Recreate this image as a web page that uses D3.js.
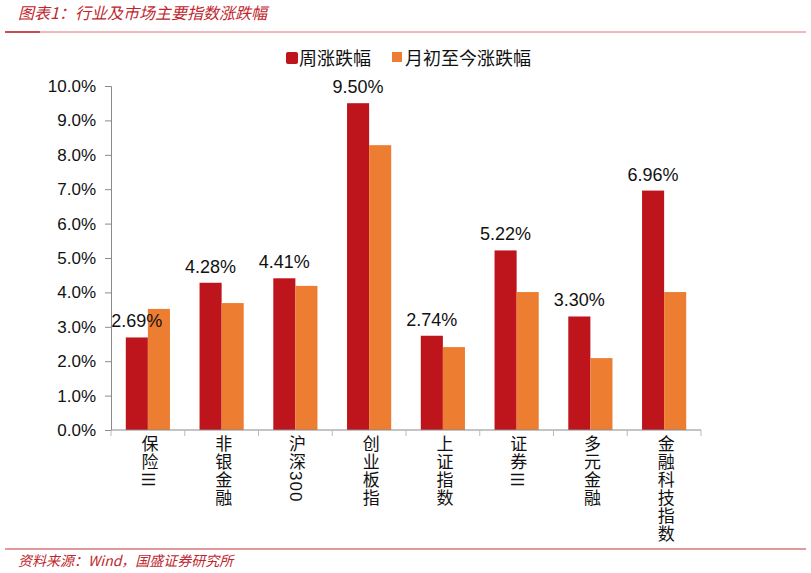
<!DOCTYPE html>
<html>
<head>
<meta charset="utf-8">
<script src="https://cdn.jsdelivr.net/npm/d3@7"></script>
<style>
  body { margin: 0; background: #fff; }
  svg text { font-family: "Liberation Sans", Arial, "Noto Sans CJK SC", sans-serif; }
  .vlab { writing-mode: vertical-rl; text-orientation: mixed; }
  .side { text-orientation: sideways; }
</style>
</head>
<body>
<script>
// categories and values
var categories = ["保险Ⅲ", "非银金融", "沪深300", "创业板指", "上证指数", "证券Ⅲ", "多元金融", "金融科技指数"];
var weekly = [2.69, 4.28, 4.41, 9.50, 2.74, 5.22, 3.30, 6.96];
var monthToDate = [3.52, 3.69, 4.19, 8.28, 2.41, 4.01, 2.09, 4.01];
var seriesNames = ["周涨跌幅", "月初至今涨跌幅"];
var yTicks = [0, 1, 2, 3, 4, 5, 6, 7, 8, 9, 10];

var width = 811, height = 573;
var colors = ["#BE141C", "#ED7D31"];
var titleRed = "#C0262D";

var svg = d3.select("body").append("svg")
    .attr("width", width)
    .attr("height", height);

// header
svg.append("text")
    .attr("x", 18).attr("y", 19)
    .attr("fill", titleRed)
    .style("font-size", "16px")
    .style("font-style", "italic")
    .style("font-family", "'Noto Sans CJK SC', sans-serif")
    .text("图表1：行业及市场主要指数涨跌幅");
svg.append("line")
    .attr("x1", 5).attr("x2", 806).attr("y1", 32).attr("y2", 32)
    .attr("stroke", "#D9777B").attr("stroke-width", 1);
svg.append("line")
    .attr("x1", 5).attr("x2", 40).attr("y1", 32).attr("y2", 32)
    .attr("stroke", "#C0262D").attr("stroke-width", 1.5);

// footer
svg.append("line")
    .attr("x1", 5).attr("x2", 806).attr("y1", 549).attr("y2", 549)
    .attr("stroke", "#D9777B").attr("stroke-width", 1.5);
svg.append("text")
    .attr("x", 18).attr("y", 566)
    .attr("fill", titleRed)
    .style("font-size", "14px")
    .style("font-style", "italic")
    .style("font-family", "'Noto Sans CJK SC', sans-serif")
    .text("资料来源：Wind，国盛证券研究所");

// scales
var x = d3.scaleBand()
    .domain(categories)
    .range([111, 701])
    .paddingInner(0)
    .paddingOuter(0);

var y = d3.scaleLinear()
    .domain([0, 10])
    .range([430, 86]);

var inner = d3.scaleBand()
    .domain([0, 1])
    .range([0, x.bandwidth()])
    .paddingOuter(0.67)
    .paddingInner(0);

// y axis
var yAxis = svg.append("g")
    .attr("transform", "translate(111,0)")
    .call(d3.axisLeft(y).tickValues(yTicks).tickSize(6).tickPadding(9)
        .tickFormat(function(d) { return d.toFixed(1) + "%"; }));
yAxis.select(".domain").attr("stroke", "#8a8a8a");
yAxis.selectAll(".tick line").attr("stroke", "#8a8a8a");
yAxis.selectAll("text")
    .style("font-size", "17px")
    .attr("fill", "#111");

// bars
var groups = svg.selectAll(".cat")
    .data(categories)
    .enter()
    .append("g")
    .attr("class", "cat")
    .attr("transform", function(d) { return "translate(" + x(d) + ",0)"; });

groups.append("rect")
    .attr("x", inner(0))
    .attr("width", inner.bandwidth())
    .attr("y", function(d, i) { return y(weekly[i]); })
    .attr("height", function(d, i) { return y(0) - y(weekly[i]); })
    .attr("fill", colors[0]);

groups.append("rect")
    .attr("x", inner(1))
    .attr("width", inner.bandwidth())
    .attr("y", function(d, i) { return y(monthToDate[i]); })
    .attr("height", function(d, i) { return y(0) - y(monthToDate[i]); })
    .attr("fill", colors[1]);

// value labels over the weekly bars
groups.append("text")
    .attr("x", inner(0) + inner.bandwidth() / 2)
    .attr("y", function(d, i) { return y(weekly[i]) - 10; })
    .attr("text-anchor", "middle")
    .style("font-size", "18px")
    .attr("fill", "#111")
    .text(function(d, i) { return weekly[i].toFixed(2) + "%"; });

// x axis
var xAxis = svg.append("g")
    .attr("transform", "translate(0,430)");
xAxis.append("line")
    .attr("x1", x.range()[0]).attr("x2", x.range()[1])
    .attr("stroke", "#8a8a8a");
xAxis.selectAll(".xt")
    .data(categories.map(function(c) { return x(c); }).concat([x.range()[1]]))
    .enter()
    .append("line")
    .attr("x1", function(d) { return d; }).attr("x2", function(d) { return d; })
    .attr("y1", 0).attr("y2", 6)
    .attr("stroke", "#bbb");

// vertical category labels, one text each; the roman numeral is turned sideways
categories.forEach(function(c) {
    var t = svg.append("text")
        .attr("class", "vlab")
        .attr("x", x(c) + x.bandwidth() / 2)
        .attr("y", 435)
        .style("font-size", "17px")
        .style("letter-spacing", "1px")
        .attr("fill", "#111");
    c.match(/Ⅲ|[^Ⅲ]+/g).forEach(function(r) {
        t.append("tspan")
            .attr("class", r === "Ⅲ" ? "side" : null)
            .text(r);
    });
});

// legend
var legend = svg.append("g").attr("transform", "translate(0,59)");
var legendX = [286, 392];
seriesNames.forEach(function(name, i) {
    legend.append("rect")
        .attr("x", legendX[i]).attr("y", -7)
        .attr("width", i === 0 ? 12 : 10).attr("height", i === 0 ? 12 : 10)
        .attr("rx", i === 0 ? 2 : 0)
        .attr("fill", colors[i]);
    legend.append("text")
        .attr("x", legendX[i] + 13).attr("y", 6)
        .style("font-size", "18px")
        .style("font-family", "'Noto Sans CJK SC', sans-serif")
        .attr("fill", "#111")
        .text(name);
});
</script>
</body>
</html>
